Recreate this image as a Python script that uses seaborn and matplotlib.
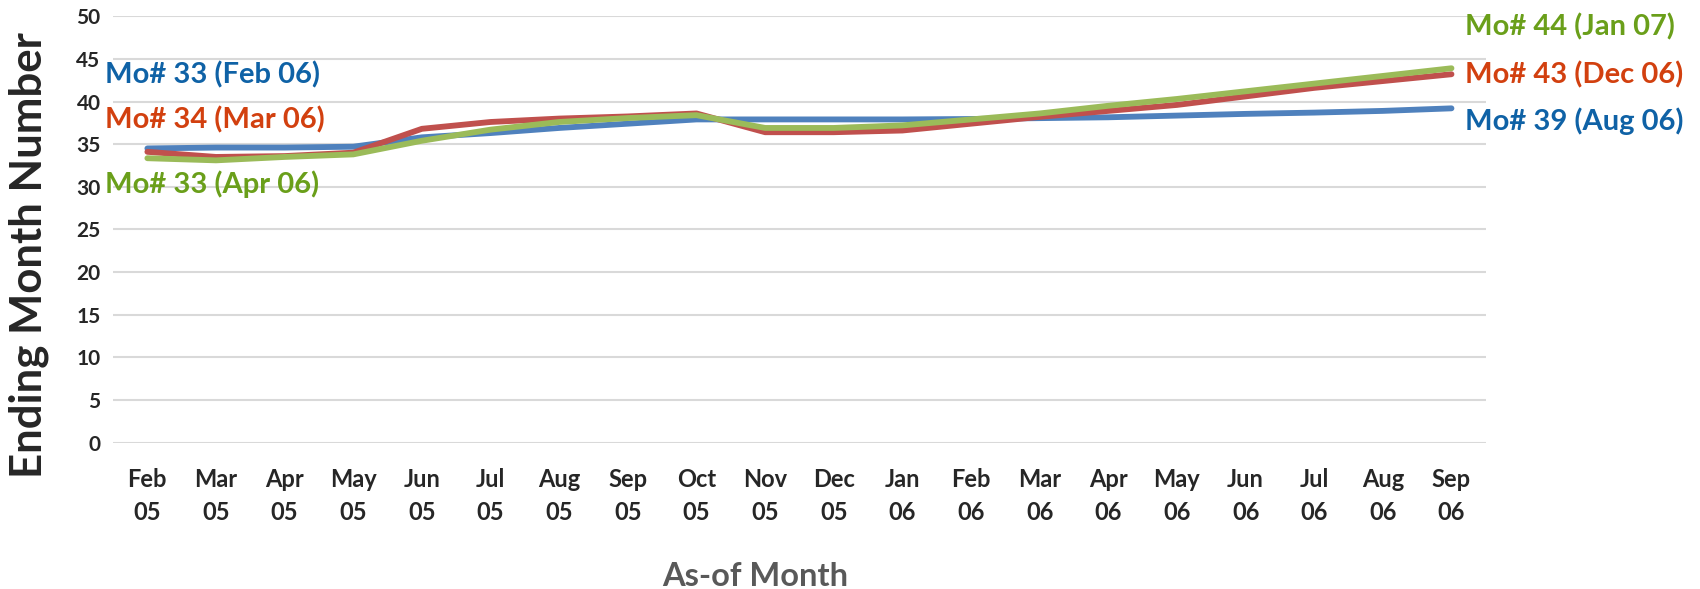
import matplotlib
matplotlib.use("Agg")
import matplotlib.pyplot as plt
import seaborn as sns
import pandas as pd

# As-of months (category axis)
months = ["Feb\n05", "Mar\n05", "Apr\n05", "May\n05", "Jun\n05", "Jul\n05", "Aug\n05",
          "Sep\n05", "Oct\n05", "Nov\n05", "Dec\n05", "Jan\n06", "Feb\n06", "Mar\n06",
          "Apr\n06", "May\n06", "Jun\n06", "Jul\n06", "Aug\n06", "Sep\n06"]

# Projected ending month number for each as-of month
series_blue = [34.5, 34.6, 34.6, 34.7, 35.8, 36.3, 36.9, 37.4, 37.9, 37.9,
               37.9, 37.9, 37.95, 38.05, 38.15, 38.35, 38.55, 38.7, 38.9, 39.2]
series_red = [34.1, 33.5, 33.6, 34.0, 36.8, 37.6, 38.0, 38.25, 38.6, 36.4,
              36.4, 36.6, 37.4, 38.2, 38.9, 39.6, 40.6, 41.6, 42.4, 43.2]
series_green = [33.35, 33.1, 33.5, 33.8, 35.4, 36.7, 37.6, 38.06, 38.4, 36.9,
                36.9, 37.2, 37.9, 38.6, 39.5, 40.3, 41.2, 42.1, 43.0, 43.9]

series_names = ["Blue", "Red", "Green"]
line_colors = ["#4F81BD", "#C0504D", "#9BBB59"]
text_colors = ["#0F62A6", "#D2400F", "#6A9F1A"]

# Start / end annotations: (text, y-value)
start_labels = [("Mo# 33 (Feb 06)", 43.1), ("Mo# 34 (Mar 06)", 37.8), ("Mo# 33 (Apr 06)", 30.3)]
end_labels = [("Mo# 39 (Aug 06)", 37.7), ("Mo# 43 (Dec 06)", 43.1), ("Mo# 44 (Jan 07)", 48.7)]

rows = []
for name, vals in zip(series_names, [series_blue, series_red, series_green]):
    for i, v in enumerate(vals):
        rows.append({"idx": i, "value": v, "series": name})
df = pd.DataFrame(rows)

sns.set_theme(style="white")
plt.rcParams["font.family"] = ["Lato", "DejaVu Sans"]
plt.rcParams["font.weight"] = "bold"

fig = plt.figure(figsize=(17, 5.89), dpi=100)
ax = fig.add_axes([0.0665, 0.2486, 0.8075, 0.7238])

sns.lineplot(data=df, x="idx", y="value", hue="series", hue_order=series_names,
             palette=line_colors, linewidth=4.2, legend=False, ax=ax,
             solid_capstyle="round")

ax.set_xlim(-0.5, len(months) - 0.5)
ax.set_ylim(0, 50)
ax.set_yticks(range(0, 51, 5))
ax.set_xticks(range(len(months)))
ax.set_xticklabels(months, fontsize=17, fontweight="bold", linespacing=1.55)
ax.tick_params(axis="y", labelsize=15, pad=9, length=0)
ax.tick_params(axis="x", pad=18, length=0)
for t in ax.get_yticklabels():
    t.set_fontweight("bold")

ax.yaxis.grid(True, color="#D9D9D9", linewidth=1.5)
ax.set_axisbelow(True)
for s in ax.spines.values():
    s.set_visible(False)

ax.set_ylabel("Ending Month Number", fontsize=31.5, fontweight="bold")
ax.yaxis.set_label_coords(-0.047, 0.44)
ax.set_xlabel("As-of Month", fontsize=23.5, fontweight="bold", color="#595959")
ax.xaxis.label.set_va("baseline")
ax.xaxis.set_label_coords(0.4676, -0.336)

for (txt, yv), c in zip(start_labels, text_colors):
    ax.text(-0.62, yv, txt, color=c, fontsize=21, fontweight="bold",
            ha="left", va="center", clip_on=False)
for (txt, yv), c in zip(end_labels, text_colors):
    ax.text(19.2, yv, txt, color=c, fontsize=21, fontweight="bold",
            ha="left", va="center", clip_on=False)

fig.savefig("out.png", dpi=100)
